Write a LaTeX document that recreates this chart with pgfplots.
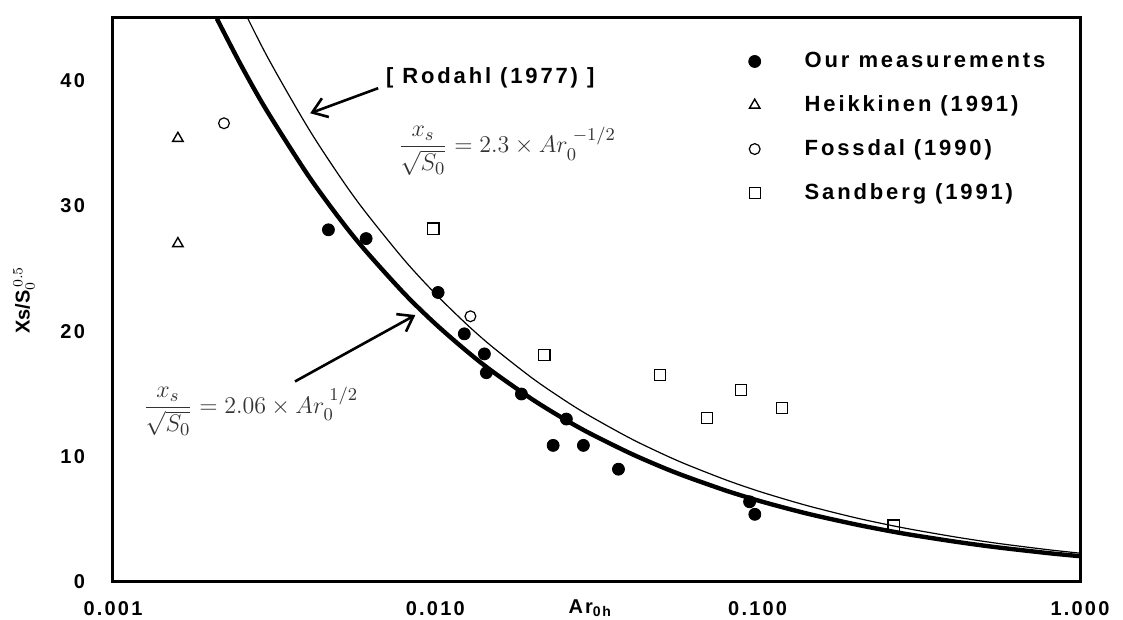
\documentclass[border=0pt]{standalone}
\usepackage{amsmath}
\usepackage{fontspec}
\setmainfont{Liberation Sans}
\newfontfamily\spacedsans{Liberation Sans}[LetterSpace=11]
\newfontfamily\legsans{Liberation Sans}[LetterSpace=13]
\usepackage{pgfplots}
\pgfplotsset{compat=1.18}
\usetikzlibrary{arrows.meta}
\begin{document}
\begin{tikzpicture}
\useasboundingbox (-56.5pt,-19pt) rectangle (505pt,291pt);
\begin{axis}[
  at={(0,0)}, anchor=south west,
  scale only axis, width=483.5pt, height=282pt,
  xmode=log, xmin=0.001, xmax=1, ymin=0, ymax=45,
  xtick={0.001,0.01,0.1,1}, xticklabels={0.001,0.010,0.100,1.000},
  ytick={0,10,20,30,40}, yticklabels={0,10,20,30,40},
  xminorticks=false, yminorticks=false,
  major tick length=0pt,
  axis line style={line width=1.5pt},
  tick label style={font=\spacedsans\bfseries\fontsize{10}{12}\selectfont},
  xticklabel style={anchor=center, yshift=-13.5pt},
  yticklabel style={anchor=east, xshift=-10.5pt},
  xlabel={\spacedsans\bfseries\fontsize{10}{12}\selectfont Ar\raisebox{-1.5pt}{\fontsize{7}{8}\selectfont 0h}},
  xlabel style={at={(axis description cs:0.493,-0.046)}, anchor=center},
  ylabel={\bfseries\fontsize{10}{12}\selectfont Xs/S$_{0}^{\,0.5}$},
  ylabel style={at={(axis description cs:-0.092,0.5)}, anchor=center, rotate=0},
  legend cell align=left,
  legend style={draw=none, fill=none, inner sep=0pt, at={(0.657,0.947)}, anchor=north west,
    font=\legsans\bfseries\fontsize{11}{13}\selectfont, row sep=8.5pt, column sep=20pt},
]
% thin Rodahl curve
\addplot[no markers, line width=0.6pt, black, smooth, forget plot] coordinates {
(0.0024,46.95) (0.003,41.99) (0.004,36.37) (0.005,32.53) (0.006,29.69) (0.008,25.71)
(0.01,23.0) (0.0125,20.57) (0.015,18.78) (0.02,16.26) (0.025,14.55) (0.03,13.28)
(0.04,11.5) (0.05,10.29) (0.06,9.39) (0.08,8.13) (0.1,7.27) (0.125,6.51) (0.15,5.94)
(0.2,5.14) (0.25,4.6) (0.3,4.2) (0.4,3.64) (0.5,3.25) (0.6,2.97) (0.8,2.57) (1,2.3)};
% thick fit curve
\addplot[no markers, line width=2.2pt, black, smooth, forget plot] coordinates {
(0.0021,44.95) (0.0025,41.2) (0.003,37.61) (0.004,32.57) (0.005,29.13) (0.006,26.59)
(0.008,23.03) (0.01,20.6) (0.0125,18.43) (0.015,16.82) (0.02,14.57) (0.025,13.03)
(0.03,11.89) (0.04,10.3) (0.05,9.21) (0.06,8.41) (0.08,7.28) (0.1,6.51) (0.125,5.83)
(0.15,5.32) (0.2,4.61) (0.25,4.12) (0.3,3.76) (0.4,3.26) (0.5,2.91) (0.6,2.66)
(0.8,2.30) (1,2.06)};
% Our measurements
\addplot[only marks, mark=*, mark size=3pt, black] coordinates {
(0.00466,28.1) (0.0061,27.4) (0.0102,23.1) (0.0123,19.8) (0.0142,18.2) (0.0144,16.7)
(0.0185,15.0) (0.0232,10.9) (0.0255,13.0) (0.0288,10.9) (0.037,9.0) (0.0944,6.4) (0.098,5.4)};
\addlegendentry{Our measurements}
% Heikkinen
\addplot[only marks, mark=triangle, mark size=3pt, black, mark options={line width=0.7pt}] coordinates {
(0.00159,35.4) (0.00159,27.0)};
\addlegendentry{Heikkinen (1991)}
% Fossdal
\addplot[only marks, mark=o, mark size=2.7pt, black, mark options={line width=0.6pt}] coordinates {
(0.00221,36.6) (0.01285,21.2)};
\addlegendentry{Fossdal (1990)}
% Sandberg
\addplot[only marks, mark=square, mark size=2.8pt, black, mark options={line width=0.6pt}] coordinates {
(0.00987,28.2) (0.0218,18.1) (0.0497,16.5) (0.0695,13.1) (0.0886,15.3) (0.119,13.9) (0.264,4.5)};
\addlegendentry{Sandberg (1991)}
% annotations
\node[font=\legsans\bfseries\fontsize{11}{13}\selectfont] at (axis cs:0.0148,40.2) {[ Rodahl (1977) ]};
\draw[line width=1.3pt, -{Straight Barb[length=7pt,width=10pt]}] (axis cs:0.00665,39.4) -- (axis cs:0.00409,37.4);
\draw[line width=1.3pt, -{Straight Barb[length=7pt,width=10pt]}] (axis cs:0.00367,16) -- (axis cs:0.00867,21.3);
\node[anchor=west, text=black!80, font=\fontsize{13}{15}\selectfont] at (axis cs:0.0073,34.4)
  {$\dfrac{x_s}{\sqrt{S_0}} = 2.3\times Ar_0^{\;-1/2}$};
\node[anchor=west, text=black!80, font=\fontsize{13}{15}\selectfont] at (axis cs:0.00118,13.6)
  {$\dfrac{x_s}{\sqrt{S_0}} = 2.06\times Ar_0^{\;1/2}$};
\end{axis}
\end{tikzpicture}
\end{document}
